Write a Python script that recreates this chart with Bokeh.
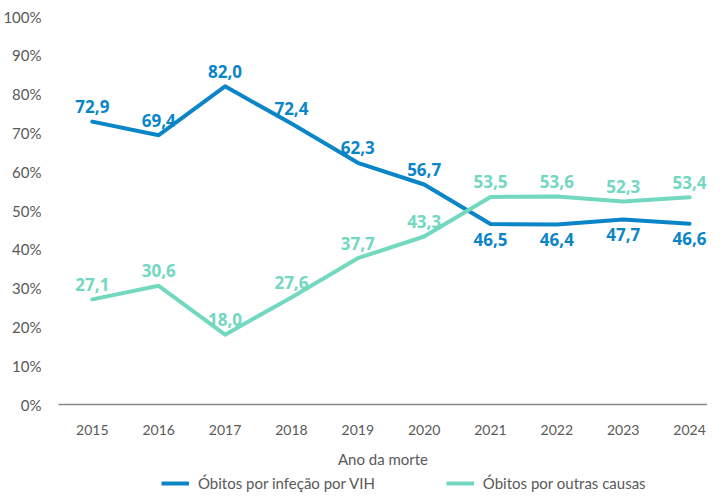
from bokeh.plotting import figure
from bokeh.layouts import column
from bokeh.models import ColumnDataSource, FixedTicker, PrintfTickFormatter, Range1d, Legend, LegendItem
from bokeh.core.properties import value
from bokeh.embed import file_html
from bokeh.resources import INLINE

years = [2015, 2016, 2017, 2018, 2019, 2020, 2021, 2022, 2023, 2024]
vih = [72.9, 69.4, 82.0, 72.4, 62.3, 56.7, 46.5, 46.4, 47.7, 46.6]
outras = [27.1, 30.6, 18.0, 27.6, 37.7, 43.3, 53.5, 53.6, 52.3, 53.4]
y_ticks = [0, 10, 20, 30, 40, 50, 60, 70, 80, 90, 100]
name_vih = "Óbitos por infeção por VIH"
name_outras = "Óbitos por outras causas"
x_label = "Ano da morte"

BLUE = "#0A85C7"
TEAL = "#72D8BF"
GRAY = "#595959"

def fmt(v):
    return f"{v:.1f}".replace(".", ",")

blue_off = [-15 if a > b else 15 for a, b in zip(vih, outras)]
teal_off = [-15 for _ in outras]

src_vih = ColumnDataSource(dict(x=years, y=vih, t=[fmt(v) for v in vih], off=blue_off))
src_out = ColumnDataSource(dict(x=years, y=outras, t=[fmt(v) for v in outras], off=teal_off))

p = figure(width=707, height=470, output_backend="svg", toolbar_location=None,
           x_range=Range1d(2014.49, 2024.27), y_range=Range1d(0, 100),
           min_border_left=54, min_border_right=0, min_border_top=16, min_border_bottom=66)
p.outline_line_color = None
p.xgrid.visible = False
p.ygrid.visible = False
p.background_fill_color = "white"
p.border_fill_color = "white"

p.line("x", "y", source=src_vih, line_color=BLUE, line_width=4, line_join="round", line_cap="round")
p.line("x", "y", source=src_out, line_color=TEAL, line_width=4, line_join="round", line_cap="round")

p.text("x", "y", text="t", source=src_vih, y_offset="off", text_align="center", text_baseline="middle",
       text_font=value("Open Sans"), text_font_style="bold", text_font_size="17px", text_color=BLUE)
p.text("x", "y", text="t", source=src_out, y_offset="off", text_align="center", text_baseline="middle",
       text_font=value("Open Sans"), text_font_style="bold", text_font_size="17px", text_color=TEAL)

# y axis
p.yaxis.ticker = FixedTicker(ticks=y_ticks)
p.yaxis.formatter = PrintfTickFormatter(format="%d%%")
p.yaxis.axis_line_color = None
p.yaxis.major_tick_line_color = None
p.yaxis.minor_tick_line_color = None
p.yaxis.major_label_text_font = "Lato"
p.yaxis.major_label_text_font_size = "15px"
p.yaxis.major_label_text_color = GRAY
p.yaxis.major_label_text_baseline = "top"
p.yaxis.major_label_standoff = 11

# x axis
p.xaxis.ticker = FixedTicker(ticks=years)
p.xaxis.axis_line_color = "#8a8a8a"
p.xaxis.axis_line_width = 1.5
p.xaxis.major_tick_line_color = None
p.xaxis.minor_tick_line_color = None
p.xaxis.major_label_text_font = "Lato"
p.xaxis.major_label_text_font_size = "14px"
p.xaxis.major_label_text_color = GRAY
p.xaxis.major_label_standoff = 14
p.xaxis.axis_label = x_label
p.xaxis.axis_label_text_font = "Lato"
p.xaxis.axis_label_text_font_style = "normal"
p.xaxis.axis_label_text_font_size = "15px"
p.xaxis.axis_label_text_color = GRAY
p.xaxis.axis_label_standoff = 12

# legend strip below the chart (series drawn outside its view, used only as legend proxies)
p2 = figure(width=707, height=23, output_backend="svg", toolbar_location=None,
            x_range=Range1d(0, 1), y_range=Range1d(0, 1),
            x_axis_location=None, y_axis_location=None,
            min_border_left=0, min_border_right=0, min_border_top=0, min_border_bottom=0)
p2.xgrid.visible = False
p2.ygrid.visible = False
p2.outline_line_color = None
l1 = p2.line(years, vih, line_color=BLUE, line_width=4)
l2 = p2.line(years, outras, line_color=TEAL, line_width=4)
legend = Legend(items=[LegendItem(label=name_vih, renderers=[l1]),
                       LegendItem(label=name_outras, renderers=[l2])],
                orientation="horizontal", location=(103, 1),
                label_text_font="Lato", label_text_font_size="15px", label_text_color=GRAY,
                glyph_width=28, glyph_height=16, spacing=71, label_standoff=9,
                border_line_color=None, background_fill_alpha=0, padding=0, margin=0)
p2.add_layout(legend, "center")

layout = column(p, p2, spacing=0)
open("out.html", "w").write(file_html(layout, INLINE))
